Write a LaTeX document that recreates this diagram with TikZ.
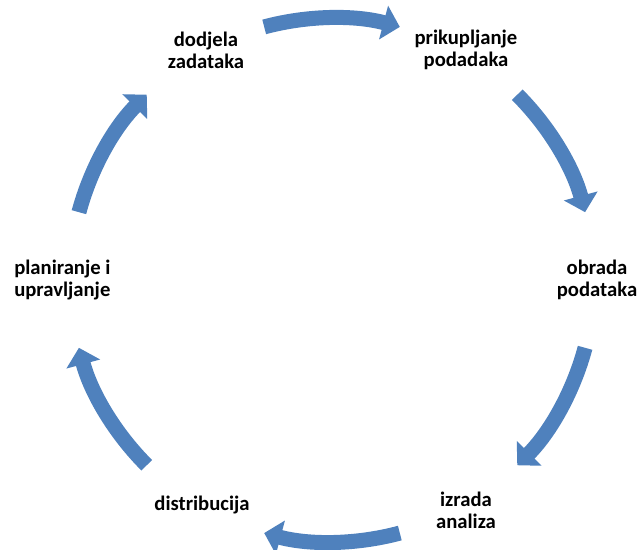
\documentclass[tikz,border=0pt]{standalone}
\usepackage{fontspec}
\setmainfont{Carlito}
\usetikzlibrary{arrows.meta}
\definecolor{ciklus}{HTML}{4F81BD}
\tikzstyle{oznaka}=[font=\bfseries\fontsize{14.7}{15.5}\selectfont, align=center, inner sep=0pt]
\tikzstyle{strelica}=[draw=ciklus, line width=0.375cm, -{Triangle[width=0.85cm,length=0.42cm]}]

\begin{document}
\begin{tikzpicture}[x=0.025cm,y=0.025cm]
  \useasboundingbox (0,0) rectangle (639,550);
  \coordinate (centar) at (332,270);
  \node[oznaka] (dodjela) at (206,500) {dodjela\\zadataka};
  \node[oznaka] (prikupljanje) at (466,500) {prikupljanje\\podadaka};
  \node[oznaka] (obrada) at (597,270) {obrada\\podataka};
  \node[oznaka] (izrada) at (466,40) {izrada\\analiza};
  \node[oznaka] (distribucija) at (202,45) {distribucija};
  \node[oznaka, align=left, anchor=west] (planiranje) at (14,270) {planiranje i\\upravljanje};

  % strelice po krugu
  \draw[strelica] (centar) ++(105:262) arc[start angle=105, end angle=75, radius=262];
  \draw[strelica] (centar) ++(45:262) arc[start angle=45, end angle=15, radius=262];
  \draw[strelica] (centar) ++(-15:262) arc[start angle=-15, end angle=-45, radius=262];
  \draw[strelica] (centar) ++(-75:262) arc[start angle=-75, end angle=-105, radius=262];
  \draw[strelica] (centar) ++(-135:262) arc[start angle=-135, end angle=-165, radius=262];
  \draw[strelica] (centar) ++(165:262) arc[start angle=165, end angle=135, radius=262];
\end{tikzpicture}
\end{document}
